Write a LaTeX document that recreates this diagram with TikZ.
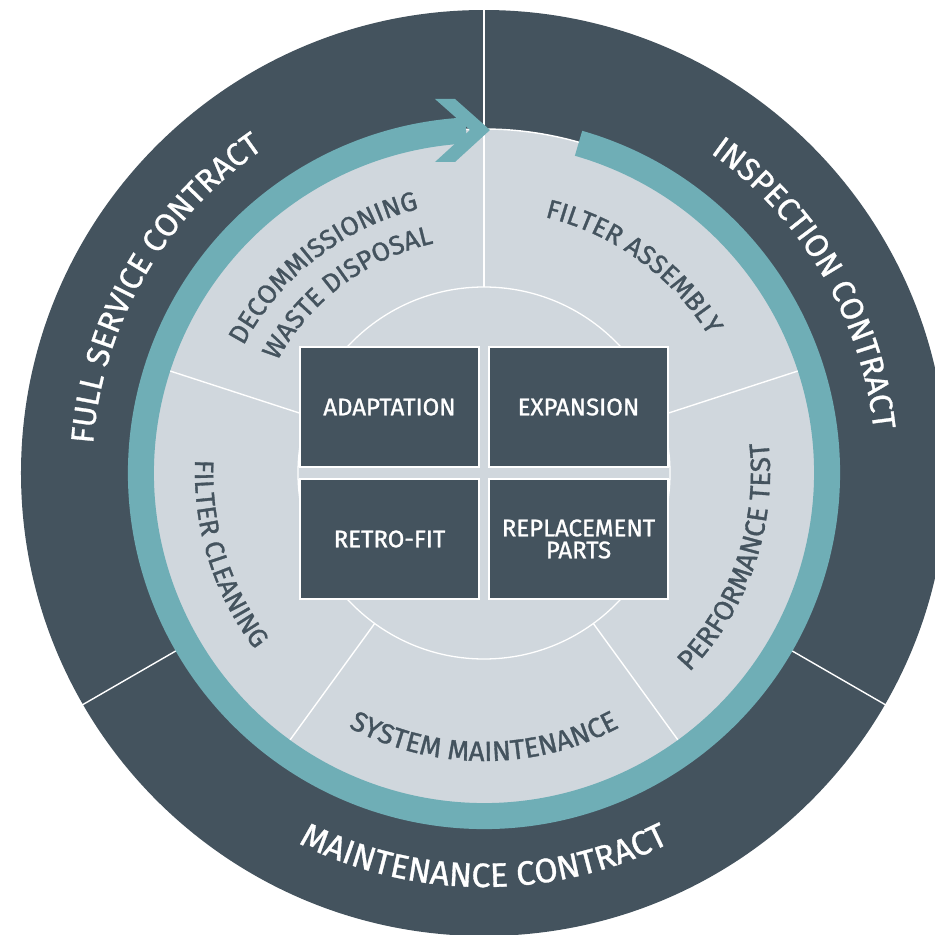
\documentclass[tikz,border=0pt]{standalone}
\usepackage{fontspec}
\setmainfont{Fira Sans}[FakeBold=1.2]
\newfontfamily\ringfamily{Fira Sans}[FakeBold=1]
\usetikzlibrary{decorations.text}

\definecolor{slate}{HTML}{44535E}
\definecolor{aqua}{HTML}{6FAEB6}
\definecolor{mist}{HTML}{D0D7DD}

\newcommand{\ringfont}{\ringfamily\fontsize{32}{32}\selectfont}
\newcommand{\widefont}{\ringfamily\fontsize{33.8}{34}\selectfont}
\newcommand{\segfont}{\fontsize{26.5}{27}\selectfont}
\newcommand{\seglarge}{\fontsize{27.8}{28}\selectfont}
\newcommand{\cellfont}{\fontsize{24}{27}\selectfont}

\tikzset{
  cell/.style={draw=white, line width=1.3pt, fill=slate, text=white,
    minimum width=179pt, minimum height=120pt, inner sep=0pt,
    align=center, font=\cellfont},
  divider/.style={draw=white, line width=1.4pt},
  ringtext/.style={decorate, decoration={text along path, text align=center, text color=white}},
  segtext/.style={decorate, decoration={text along path, text align=center, text color=slate}}
}

\begin{document}
\begin{tikzpicture}[x=1pt, y=1pt]

    % Bildausschnitt
    \useasboundingbox (-484,-462) rectangle (451,473);
    \clip (-484,-462) rectangle (451,473);

    % aeusserer Ring (Vertraege)
    \fill[slate] (0,0) circle (463);

    % heller Ring (Leistungen)
    \filldraw[fill=mist, draw=white, line width=1.4pt] (0,0) circle (344);
    \draw[white, line width=1.3pt] (0,0) circle (186);

    % Trennlinien
    \foreach \a in {18,90,162,234,306}
        \draw[divider] (\a:186) -- (\a:344);
    \draw[divider] (90:344) -- (90:470); % oben
    \draw[divider] (210:344) -- (210:470); % links unten
    \draw[divider] (330:344) -- (330:470); % rechts unten

    % Kreislauf-Pfeil
    \draw[aqua, line width=26pt] (74:343) arc[start angle=74, end angle=-267, radius=343];
    \fill[aqua] (-49,374) -- (-29,374) -- (6,343) -- (-29,311) -- (-49,311) -- (-14,343) -- cycle; % Pfeilspitze

    % Kaesten in der Mitte
    \node[cell] (adapt)   at (-94.5, 66)  {ADAPTATION};
    \node[cell] (expand)  at (94.5, 66)   {EXPANSION};
    \node[cell] (retro)   at (-94.5, -66) {RETRO-FIT};
    \node[cell] (replace) at (94.5, -66)  {REPLACEMENT\\[-5pt]PARTS};

    % Vertragsarten
    \path[ringtext, decoration={text={|\ringfont|FULL SERVICE CONTRACT}}]
        (200:392) arc[start angle=200, end angle=100, radius=392];
    \path[ringtext, decoration={text={|\ringfont|INSPECTION CONTRACT}}]
        (80.5:392) arc[start angle=80.5, end angle=-19.5, radius=392];
    \path[ringtext, decoration={text={|\widefont|MAINTENANCE CONTRACT}}]
        (220:414) arc[start angle=220, end angle=320, radius=414];

    % Leistungen
    \path[segtext, decoration={text={|\segfont|DECOMMISSIONING}}]
        (173:272) arc[start angle=173, end angle=83, radius=272];
    \path[segtext, decoration={text={|\segfont|WASTE DISPOSAL}}]
        (172:235) arc[start angle=172, end angle=82, radius=235];
    \path[segtext, decoration={text={|\segfont|FILTER ASSEMBLY}}]
        (99:263) arc[start angle=99, end angle=9, radius=263];
    \path[segtext, decoration={text={|\seglarge|PERFORMANCE TEST}}]
        (-64:286) arc[start angle=-64, end angle=26, radius=286];
    \path[segtext, decoration={text={|\seglarge|SYSTEM MAINTENANCE}}]
        (225:288) arc[start angle=225, end angle=315, radius=288];
    \path[segtext, decoration={text={|\segfont|FILTER CLEANING}}]
        (152.5:289) arc[start angle=152.5, end angle=242.5, radius=289];

\end{tikzpicture}
\end{document}
